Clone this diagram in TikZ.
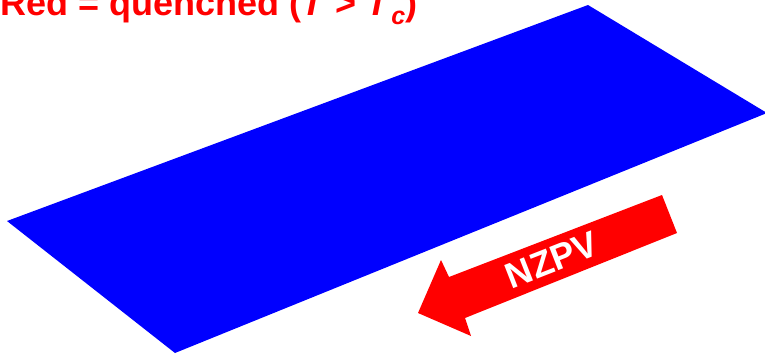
\documentclass[tikz,border=0pt]{standalone}
\usepackage{fontspec}
\setmainfont{Liberation Sans}
\definecolor{plateblue}{RGB}{0,0,255}
\definecolor{arrowred}{RGB}{255,0,0}
\tikzset{
  plate/.style={fill=plateblue, draw=none},
  bigarrow/.style={fill=arrowred, draw=none},
  title/.style={text=arrowred, font=\fontsize{36}{40}\selectfont\bfseries, inner sep=0pt, anchor=base west},
  arrowlabel/.style={text=white, font=\fontsize{36}{40}\selectfont\bfseries, inner sep=0pt}
}
\begin{document}
\begin{tikzpicture}[x=1pt,y=-1pt]
\useasboundingbox (0,0) rectangle (765,356);
\clip (0,0) rectangle (765,356);
% plate
\coordinate (pl) at (7,221);
\coordinate (pt) at (588,5);
\coordinate (pr) at (767,113);
\coordinate (pb) at (175,353);
\fill[plate] (pl) -- (pt) -- (pr) -- (pb) -- cycle;
% arrow
\coordinate (a1) at (662,195);
\coordinate (a2) at (677,233);
\coordinate (a3) at (465,318);
\coordinate (a4) at (471,336);
\coordinate (a5) at (418,313);
\coordinate (a6) at (441,260);
\coordinate (a7) at (449,277);
\fill[bigarrow] (a1) -- (a2) -- (a3) -- (a4) -- (a5) -- (a6) -- (a7) -- cycle;
\node[arrowlabel, rotate=21.4] (lbl) at (552,260) {NZPV};
% title
\node[title] (ttl) at (0,16) {Red = quenched (\textit{T} > \textit{T}\raisebox{-0.25em}{\fontsize{25}{25}\selectfont\textit{c}})};
\end{tikzpicture}
\end{document}
